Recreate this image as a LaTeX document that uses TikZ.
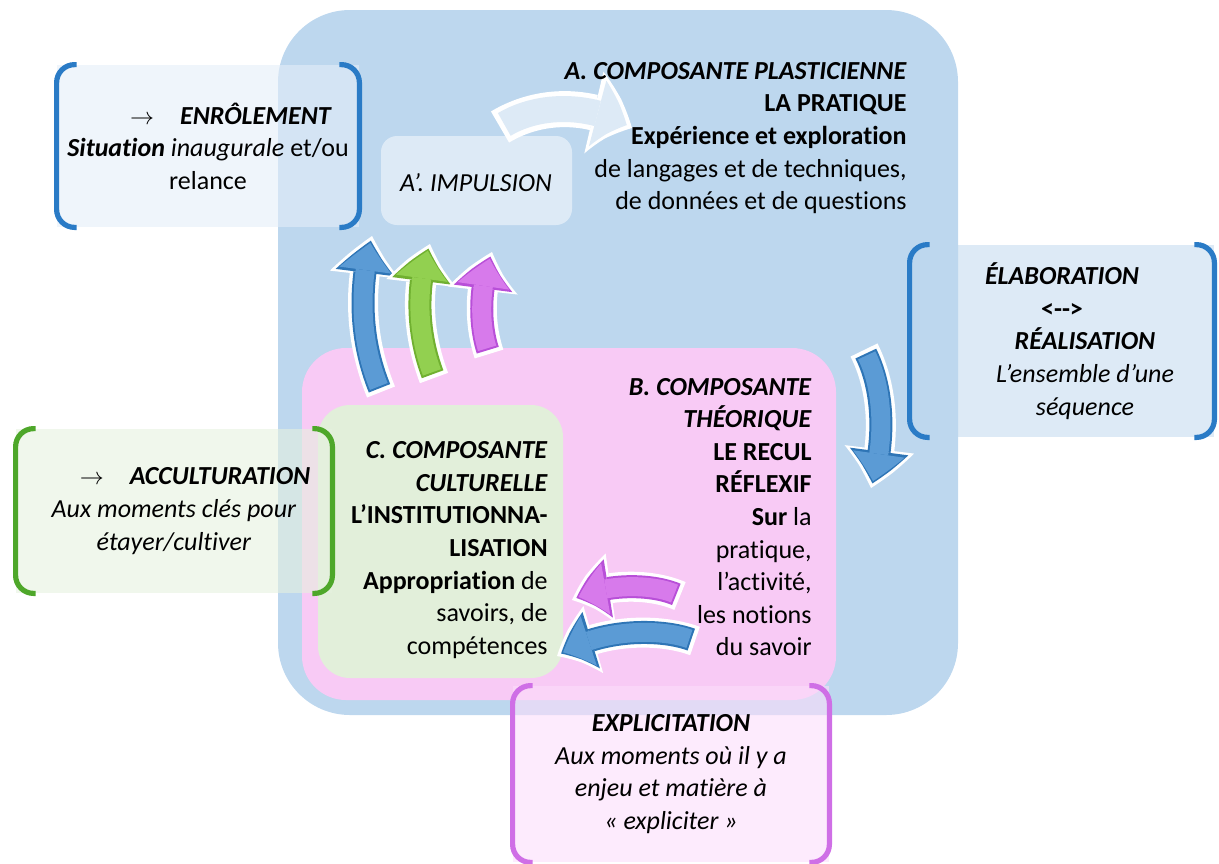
\documentclass[tikz,border=0pt]{standalone}
\usepackage{fontspec}
\setmainfont[Ligatures=NoCommon]{Carlito}
\usetikzlibrary{arrows.meta,bending,positioning}

\definecolor{boxblue}{HTML}{BDD7EE}
\definecolor{boxpink}{HTML}{F8CAF5}
\definecolor{boxgreen}{HTML}{E2EFDA}
\definecolor{impfill}{HTML}{DDEAF6}
\definecolor{enrolfill}{HTML}{E4EEF8}
\definecolor{accfill}{HTML}{E6F1DF}
\definecolor{explfill}{HTML}{FCDDFB}
\definecolor{lineblue}{HTML}{2A7BC6}
\definecolor{linegreen}{HTML}{4EA72A}
\definecolor{linemag}{HTML}{CF6FE6}
\definecolor{arrblue}{HTML}{5B9BD5}
\definecolor{edgeblue}{HTML}{2E75B6}
\definecolor{arrgreen}{HTML}{92D050}
\definecolor{edgegreen}{HTML}{70B030}
\definecolor{arrmag}{HTML}{D77AEB}
\definecolor{edgemag}{HTML}{B84FD8}

\newcommand{\curvarrow}[3]{%
  \draw[rim] #3;
  \draw[edge,#2] #3;
  \draw[core,#1] #3;}

\begin{document}
\begin{tikzpicture}[x=0.5pt,y=-0.5pt]
\tikzstyle{txt}=[font=\fontsize{13}{16.3}\selectfont, inner sep=0pt]
\tikzstyle{bracket}=[line width=2.6pt, rounded corners=9pt]
\tikzstyle{sidebox}=[txt, align=center, fill opacity=0.6, text opacity=1]
\tikzstyle{rim}=[white, line width=15pt, -{Triangle[width=35pt,length=20pt,line width=0pt,bend]}]
\tikzstyle{edge}=[line width=11.5pt, shorten >=2.4pt, shorten <=2pt, -{Triangle[width=29.5pt,length=16.5pt,line width=0pt,bend]}]
\tikzstyle{core}=[line width=9.5pt, shorten >=3.6pt, shorten <=3pt, -{Triangle[width=26pt,length=14pt,line width=0pt,bend]}]

\useasboundingbox (0,0) rectangle (1219,863);

% side box behind the big one
\node[sidebox, fill=impfill, fill opacity=1, minimum width=152pt, minimum height=96pt] (elab) at (1062,341)
  {\textbf{\textit{ÉLABORATION}}\\ \textbf{<-{}->}\\ \hspace*{23pt}\textbf{\textit{RÉALISATION}}\\
   \hspace*{23pt}\textit{L’ensemble d’une}\\ \hspace*{23pt}\textit{séquence}};

% the three components
\fill[boxblue, rounded corners=36pt] (278,10) rectangle (958,715);
\fill[impfill, rounded corners=8pt] (381,136) rectangle (572,225);
\fill[boxpink, rounded corners=22pt] (302,348) rectangle (836,700);
\fill[boxgreen, rounded corners=16pt] (318,405) rectangle (563,678);

% side boxes
\node[sidebox, fill=enrolfill, minimum width=151pt, minimum height=81pt] (enrol) at (208,146)
  {\hspace*{23pt}$\rightarrow$\quad\textbf{\textit{ENRÔLEMENT}}\\
   \textbf{\textit{Situation}} \textit{inaugurale} et/ou\\ relance};
\node[sidebox, fill=accfill, minimum width=158pt, minimum height=82pt] (accul) at (174,511)
  {\hspace*{21pt}$\rightarrow$\quad\textbf{\textit{ACCULTURATION}}\\
   \textit{Aux moments clés pour}\\ \textit{étayer/cultiver}};
\node[sidebox, fill=explfill, fill opacity=0.6, minimum width=158pt, minimum height=88pt] (expl) at (671,774)
  {\textbf{\textit{EXPLICITATION}}\\ \textit{Aux moments où il y a}\\
   \textit{enjeu et matière à}\\ \textit{« expliciter »}};

% brackets
\foreach \b/\c in {enrol/lineblue, elab/lineblue, accul/linegreen, expl/linemag} {
  \draw[bracket, \c] ([xshift=10pt]\b.north west) -- (\b.north west) -- (\b.south west) -- ([xshift=10pt]\b.south west);
  \draw[bracket, \c] ([xshift=-10pt]\b.north east) -- (\b.north east) -- (\b.south east) -- ([xshift=-10pt]\b.south east);
}

% arrows
\coordinate (wa1) at (500,127);
\coordinate (wa2) at (632,128);
\draw[white, line width=18pt, -{Triangle[width=42pt,length=21pt,line width=0pt,bend]}]
  (wa1) .. controls (540,103) and (590,103) .. (wa2);
\draw[impfill, line width=13pt, shorten >=3pt, shorten <=2.5pt, -{Triangle[width=34pt,length=16pt,line width=0pt,bend]}]
  (wa1) .. controls (540,103) and (590,103) .. (wa2);

\coordinate (bu1) at (381,392);
\coordinate (bu2) at (372,236);
\coordinate (gu1) at (434,378);
\coordinate (gu2) at (430,244);
\coordinate (mu1) at (489,354);
\coordinate (mu2) at (492,252);
\curvarrow{arrblue}{edgeblue}{(bu1) .. controls (360,340) and (358,290) .. (bu2)}
\curvarrow{arrgreen}{edgegreen}{(gu1) .. controls (416,330) and (416,285) .. (gu2)}
\curvarrow{arrmag}{edgemag}{(mu1) .. controls (478,320) and (480,285) .. (mu2)}

\coordinate (rd1) at (864,350);
\coordinate (rd2) at (871,488);
\curvarrow{arrblue}{edgeblue}{(rd1) .. controls (884,390) and (886,440) .. (rd2)}

\coordinate (ml1) at (680,596);
\coordinate (ml2) at (572,600);
\coordinate (bl1) at (695,641);
\coordinate (bl2) at (557,656);
\curvarrow{arrmag}{edgemag}{(ml1) .. controls (650,583) and (605,583) .. (ml2)}
\curvarrow{arrblue}{edgeblue}{(bl1) .. controls (660,628) and (600,628) .. (bl2)}

% texts
\node[txt, align=right, anchor=east] (textA) at (907,138)
  {\textbf{\textit{A. COMPOSANTE PLASTICIENNE}}\\ \textbf{LA PRATIQUE}\\
   \textbf{Expérience et exploration}\\ de langages et de techniques,\\ de données et de questions};
\node[txt] (impul) at (476,183) {\textit{A’. IMPULSION}};
\node[txt, align=right, anchor=east] (textB) at (812,517)
  {\textbf{\textit{B. COMPOSANTE}}\\ \textbf{\textit{THÉORIQUE}}\\ \textbf{LE RECUL}\\ \textbf{RÉFLEXIF}\\
   \textbf{Sur} la\\ pratique,\\ l’activité,\\ les notions\\ du savoir};
\node[txt, align=right, anchor=east] (textC) at (548,550)
  {\textbf{\textit{C. COMPOSANTE}}\\ \textbf{\textit{CULTURELLE}}\\ \textbf{L’INSTITUTIONNA-}\\
   \textbf{LISATION}\\ \textbf{Appropriation} de\\ savoirs, de\\ compétences};
\end{tikzpicture}
\end{document}
